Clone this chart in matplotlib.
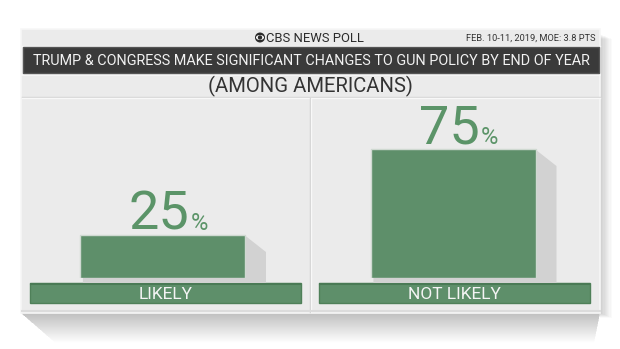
import matplotlib
matplotlib.use("Agg")
import matplotlib.pyplot as plt
from matplotlib.patches import Rectangle, Polygon, Circle, Ellipse

# data
categories = ["LIKELY", "NOT LIKELY"]
values = [25, 75]
poll_name = "CBS NEWS POLL"
poll_info = "FEB. 10-11, 2019, MOE: 3.8 PTS"
title = "TRUMP & CONGRESS MAKE SIGNIFICANT CHANGES TO GUN POLICY BY END OF YEAR"
subtitle = "(AMONG AMERICANS)"

W, H = 620, 349
GREEN = "#5e8f6a"
NUM_GREEN = "#5b9468"
CARD = "#ebebeb"

fig = plt.figure(figsize=(W / 100, H / 100), dpi=100)
fig.patch.set_facecolor("white")

# decoration layer in pixel units (y down)
deco = fig.add_axes([0, 0, 1, 1])
deco.set_xlim(0, W)
deco.set_ylim(H, 0)
deco.set_axis_off()

# card shadows
n = 22
for i in range(n):
    d = i * 1.4
    deco.add_patch(Polygon([(21, 313), (600, 313), (600 - d * 0.2, 313 + d),
                            (21 + d * 1.15, 313 + d)], closed=True,
                           fc="#000000", alpha=0.013, ec="none", zorder=0))
for i in range(10):
    deco.add_patch(Rectangle((600, 34 + i * 0.5), 1 + i * 1.2, 279, fc="#000000",
                             alpha=0.018, ec="none", zorder=0))

# card
deco.add_patch(Rectangle((21, 29), 579, 284, fc=CARD, ec="#f7f7f7", lw=1.2, zorder=1))
deco.plot([22, 600], [46, 46], color="#f8f8f8", lw=1, zorder=2)
deco.plot([22, 600], [74.5, 74.5], color="#f8f8f8", lw=1.2, zorder=2)
deco.plot([22, 600], [97, 97], color="#d4d4d4", lw=1, zorder=2)
deco.plot([22, 600], [98, 98], color="#f8f8f8", lw=1, zorder=2)
deco.plot([310, 310], [98, 312], color="#d0d0d0", lw=1, zorder=2)
deco.plot([311, 311], [98, 312], color="#f8f8f8", lw=1, zorder=2)
deco.plot([22, 600], [311, 311], color="#dcdcdc", lw=1.5, zorder=2)

# dark title band
deco.add_patch(Rectangle((23, 47), 576, 26, fc="#3a3a3a", ec="#555555", lw=1, zorder=2))


def fit_text(x, y, s, width, **kw):
    t = deco.text(x, y, s, **kw)
    fig.canvas.draw()
    w = t.get_window_extent().width
    t.set_fontsize(t.get_fontsize() * width / w)
    return t


# header
eye_x, eye_y = 260, 37.5
deco.add_patch(Circle((eye_x, eye_y), 5, fc="#2b2b2b", ec="none", zorder=3))
deco.add_patch(Ellipse((eye_x, eye_y), 8, 5, fc="white", ec="none", zorder=4))
deco.add_patch(Circle((eye_x, eye_y), 2.2, fc="#2b2b2b", ec="none", zorder=5))
fit_text(266, 38, poll_name, 97, fontsize=11, family="Roboto", color="#2b2b2b",
         ha="left", va="center", zorder=3)
fit_text(595, 38, poll_info, 129, fontsize=7, family="Roboto", color="#333333",
         ha="right", va="center", zorder=3)
fit_text(311, 61, title, 558, fontsize=10, family="Roboto",
         color="#f2f2f2", ha="center", va="center", zorder=3)
fit_text(310, 86, subtitle, 206, fontsize=14, family="Roboto", color="#333333",
         ha="center", va="center", zorder=3)

# category label bands
band_x = [30, 319]
for bx, cat in zip(band_x, categories):
    deco.add_patch(Rectangle((bx, 283), 271, 20, fc=GREEN, ec="#4f8059", lw=1, zorder=3))
    deco.plot([bx + 1, bx + 270], [284, 284], color="#4a7a55", lw=1.5, zorder=4)
    deco.text(bx + 135.5, 294.5, cat, fontsize=12.5, family="Roboto",
              color="#f4f4f4", ha="center", va="center", zorder=5)

# bar layer: baseline at y=278 px, 1.72 px per percent
px_per_unit = 290.5
ax = fig.add_axes([22 / W, (H - 278) / H, 578 / W, 172 / H])
ax.set_xlim(-(162.5 - 22) / px_per_unit, 1 + (600 - 453) / px_per_unit)
ax.set_ylim(0, 100)
ax.set_axis_off()
ax.patch.set_alpha(0)

xs = [0, 1]
bw = 165 / px_per_unit
dx = 21 / px_per_unit
for x, v in zip(xs, values):
    r = x + bw / 2
    ax.add_patch(Polygon([(r, v - 0.3), (r + dx, v - 9.9), (r + dx, -2.9),
                          (x - bw / 2 + 0.01, -2.9), (x - bw / 2 + 0.01, 0), (r, 0)],
                         closed=True, fc="#d2d2d2", ec="none", zorder=1, clip_on=False))
ax.bar(xs, values, width=bw, color=GREEN, edgecolor="#cfd9d1", linewidth=1, zorder=3)

for x, v in zip(xs, values):
    ax.annotate(f"{v}", (x, v), xytext=(-4, 5), textcoords="offset pixels",
                ha="center", va="baseline", fontsize=39, family="Roboto",
                color=NUM_GREEN, zorder=4, annotation_clip=False)
    ax.annotate("%", (x, v), xytext=(28, 5), textcoords="offset pixels",
                ha="left", va="baseline", fontsize=17, family="Roboto",
                color=NUM_GREEN, zorder=4, annotation_clip=False)

fig.savefig("out.png", dpi=100, facecolor="white")
